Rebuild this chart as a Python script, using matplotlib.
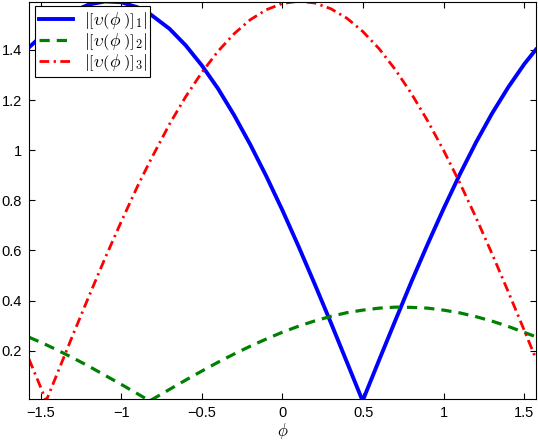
import numpy as np
import matplotlib
matplotlib.use("Agg")
import matplotlib.pyplot as plt
from matplotlib.mathtext import MathTextParser

plt.rcParams["font.family"] = ["Liberation Sans", "DejaVu Sans"]
plt.rcParams["mathtext.fontset"] = "cm"

# ── data ──
PHI = [-1.571, -1.5, -1.465, -1.4, -1.3, -1.2, -1.1, -1.0, -0.9, -0.823,
       -0.7, -0.6, -0.5, -0.4, -0.3, -0.2, -0.1, 0.0, 0.1, 0.2,
       0.3, 0.4, 0.497, 0.6, 0.7, 0.8, 0.9, 1.0, 1.1, 1.2,
       1.3, 1.4, 1.5, 1.571]
V1 = [1.410, 1.452, 1.474, 1.510, 1.553, 1.581, 1.593, 1.590, 1.570, 1.544,
      1.484, 1.418, 1.338, 1.246, 1.140, 1.023, 0.896, 0.760, 0.616, 0.466,
      0.312, 0.154, 0.0, 0.164, 0.321, 0.476, 0.625, 0.768, 0.904, 1.031,
      1.147, 1.251, 1.344, 1.401]
V2 = [0.254, 0.234, 0.224, 0.204, 0.172, 0.138, 0.102, 0.066, 0.029, 0.0,
      0.046, 0.083, 0.119, 0.154, 0.187, 0.218, 0.247, 0.274, 0.298, 0.319,
      0.337, 0.352, 0.362, 0.370, 0.374, 0.373, 0.370, 0.362, 0.351, 0.336,
      0.318, 0.297, 0.273, 0.256]
V3 = [0.166, 0.056, 0.0, 0.103, 0.262, 0.417, 0.569, 0.714, 0.854, 0.954,
      1.104, 1.213, 1.310, 1.394, 1.464, 1.520, 1.560, 1.585, 1.594, 1.587,
      1.564, 1.526, 1.474, 1.404, 1.321, 1.225, 1.117, 0.998, 0.869, 0.731,
      0.586, 0.435, 0.280, 0.169]
IDX = [1, 2, 3]

# tall delimiters like \Big in LaTeX; mathtext lacks \Big, so pad the
# innermost group with an invisible (zero-rule) fraction when it parses
_parser = MathTextParser("path")
def label(i):
    cands = [
        r"$\left|\left[\upsilon\left(\phi\genfrac{}{}{0}{}{\,}{\,}\right)\right]_%d\right|$" % i,
        r"$\left|\left[\upsilon\left(\phi\right)\right]_%d\right|$" % i,
    ]
    for c in cands:
        try:
            _parser.parse(c, 100)
            return c
        except Exception:
            pass
    return cands[-1]

LABELS = [label(i) for i in IDX]

fig = plt.figure(figsize=(5.38, 4.44), dpi=100)
ax = fig.add_axes([0.054, 0.101, 0.942, 0.894])

ax.plot(PHI, V1, "-", color="#0000ff", lw=2.8, label=LABELS[0])
ax.plot(PHI, V2, color="#008000", lw=2.3, ls=(0, (3.2, 2.2)), label=LABELS[1])
ax.plot(PHI, V3, color="#ff0000", lw=2.0, ls=(0, (3.5, 1.6, 0.8, 1.6)), label=LABELS[2])

ax.set_xlim(PHI[0], PHI[-1])
ax.set_ylim(0.007, 1.59)
ax.set_xticks([-1.5, -1, -0.5, 0, 0.5, 1, 1.5])
ax.set_xticklabels(["\u22121.5", "\u22121", "\u22120.5", "0", "0.5", "1", "1.5"])
ax.set_yticks([0.2, 0.4, 0.6, 0.8, 1, 1.2, 1.4])
ax.set_yticklabels(["0.2", "0.4", "0.6", "0.8", "1", "1.2", "1.4"])
ax.tick_params(direction="in", top=True, right=True, length=4, width=0.8,
               labelsize=10.5, pad=5)
for s in ax.spines.values():
    s.set_linewidth(0.8)
ax.set_xlabel(r"$\phi$", fontsize=12, labelpad=1)

leg = ax.legend(loc="upper left", bbox_to_anchor=(0.012, 0.99), fontsize=12.5,
                handlelength=2.0, handletextpad=0.6, labelspacing=0.02,
                borderpad=0.2, borderaxespad=0.0, fancybox=False, framealpha=1)
leg.get_frame().set_edgecolor("black")
leg.get_frame().set_linewidth(0.8)

fig.savefig("out.png", dpi=100)
